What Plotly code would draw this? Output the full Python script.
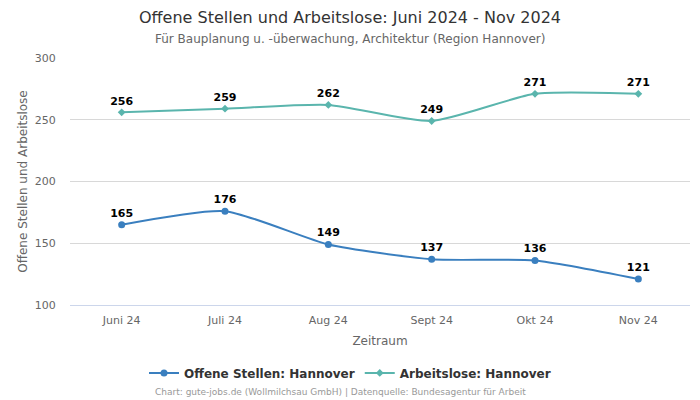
import plotly.graph_objects as go

months = ["Juni 24", "Juli 24", "Aug 24", "Sept 24", "Okt 24", "Nov 24"]
offene = [165, 176, 149, 137, 136, 121]
arbeitslose = [256, 259, 262, 249, 271, 271]

FONT = "DejaVu Sans"
XC = (350 - 70) / 620  # page centre in paper coordinates
XF = (340 - 70) / 620  # footer centre

fig = go.Figure()
fig.add_trace(go.Scatter(
    x=months, y=offene, name="Offene Stellen: Hannover",
    mode="lines+markers+text", text=[str(v) for v in offene],
    textposition="top center", textfont=dict(family=FONT, size=11, color="#000000", weight="bold"),
    line=dict(color="#3a7fbf", width=2, shape="spline", smoothing=0.6),
    marker=dict(symbol="circle", size=7, color="#3a7fbf"),
))
fig.add_trace(go.Scatter(
    x=months, y=arbeitslose, name="Arbeitslose: Hannover",
    mode="lines+markers+text", text=[str(v) for v in arbeitslose],
    textposition="top center", textfont=dict(family=FONT, size=11, color="#000000", weight="bold"),
    line=dict(color="#5ab5ad", width=2, shape="spline", smoothing=0.6),
    marker=dict(symbol="diamond", size=6, color="#5ab5ad"),
))
fig.update_layout(
    width=700, height=400,
    margin=dict(l=70, r=10, t=58, b=95),
    paper_bgcolor="white", plot_bgcolor="white",
    font=dict(family=FONT, color="#555555"),
    title=dict(
        text="Offene Stellen und Arbeitslose: Juni 2024 - Nov 2024",
        x=0.5, xanchor="center", xref="container", y=1 - 17 / 400, yanchor="middle",
        font=dict(family=FONT, size=16, color="#333333"),
    ),
    xaxis=dict(
        title=dict(text="Zeitraum", font=dict(size=12, color="#666666"), standoff=10),
        tickfont=dict(size=11, color="#666666"),
        showgrid=False, showline=True, linecolor="#ccd6eb",
        ticks="outside", ticklen=5, tickcolor="rgba(0,0,0,0)",
        range=[-0.5, 5.5], automargin=False,
    ),
    yaxis=dict(
        title=dict(text="Offene Stellen und Arbeitslose", font=dict(size=12, color="#666666"), standoff=4),
        tickfont=dict(size=11, color="#666666"),
        ticks="outside", ticklen=11, tickcolor="rgba(0,0,0,0)",
        range=[100, 300], tickvals=[100, 150, 200, 250, 300],
        showgrid=True, gridcolor="#d8d8d8", zeroline=False, automargin=False,
    ),
    legend=dict(
        orientation="h", x=XC, xanchor="center", y=-0.275, yanchor="middle",
        font=dict(size=12, color="#333333", weight="bold"), itemwidth=30,
    ),
    showlegend=True,
)
fig.add_annotation(
    text="Für Bauplanung u. -überwachung, Architektur (Region Hannover)",
    xref="paper", yref="paper", x=XC, y=(400 - 39 - 95) / 247, xanchor="center", yanchor="middle",
    showarrow=False, font=dict(size=12, color="#666666"),
)
fig.add_annotation(
    text="Chart: gute-jobs.de (Wollmilchsau GmbH) | Datenquelle: Bundesagentur für Arbeit",
    xref="paper", yref="paper", x=XF, y=(8 - 95) / 247, xanchor="center", yanchor="middle",
    showarrow=False, font=dict(size=9, color="#999999"),
)
fig.write_html("out.html", config={"displayModeBar": False},
               post_script="document.body.style.margin='0';")
